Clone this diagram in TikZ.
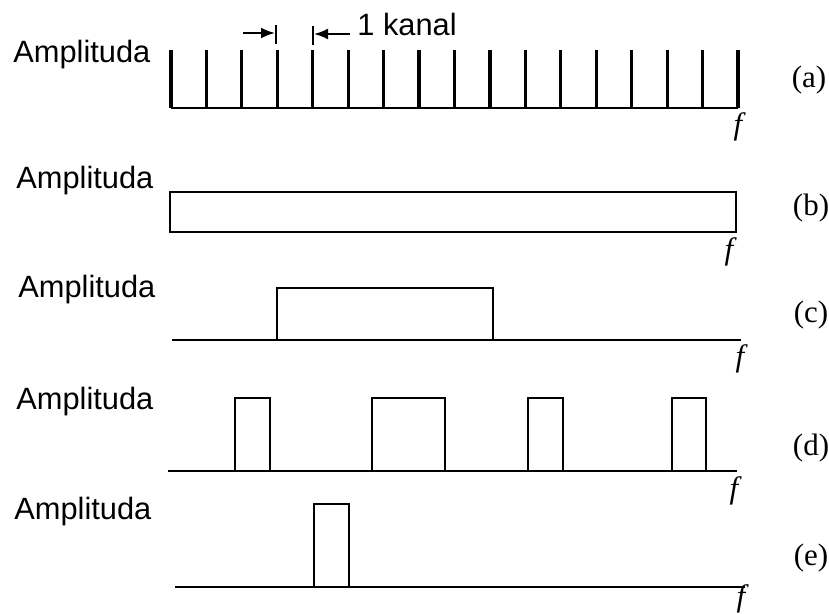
\documentclass[tikz,border=0pt]{standalone}
\usepackage{fontspec}
\setmainfont{Liberation Serif}
\newfontfamily\arialfont{Liberation Sans}
\usetikzlibrary{arrows.meta}
\tikzset{
  amplabel/.style={anchor=west, inner sep=0pt, font=\arialfont\fontsize{15.4}{18}\selectfont},
  partlabel/.style={inner sep=0pt, font=\fontsize{15.5}{18}\selectfont},
  flabel/.style={anchor=north, inner sep=0pt, font=\itshape\fontsize{15.5}{18}\selectfont},
  axis/.style={line width=1.3pt},
  band/.style={line width=1.3pt},
}
\begin{document}
\begin{tikzpicture}[x=0.5pt,y=-0.5pt]
  \useasboundingbox (0,0) rectangle (829,614);
  % (a) channels
  \node[amplabel] (ampa) at (13,55) {Amplituda};
  \draw[axis] (171,108) -- (738,108);
  \foreach \i in {0,...,16}
    \draw[line width=1.6pt] (171+35.44*\i,108) -- (171+35.44*\i,50);
  \draw[line width=0.8pt] (276,25) -- (276,44);
  \draw[line width=0.8pt] (313,26) -- (313,45);
  \coordinate (la) at (243,33);
  \coordinate (lb) at (275,33);
  \coordinate (ra) at (350,34);
  \coordinate (rb) at (314,34);
  \draw[line width=1pt, -{Latex[length=7pt,width=5.5pt]}] (la) -- (lb);
  \draw[line width=1pt, -{Latex[length=7pt,width=5.5pt]}] (ra) -- (rb);
  \node[amplabel] (kanal) at (357,24) {1 kanal};
  \node[flabel] (fa) at (738,112) {f};
  \node[partlabel] (pa) at (809,80) {(a)};
  % (b) whole band
  \node[amplabel] (ampb) at (16,181) {Amplituda};
  \draw[band] (170,192) rectangle (736,232);
  \node[flabel] (fb) at (729,237) {f};
  \node[partlabel] (pb) at (811,208) {(b)};
  % (c)
  \node[amplabel] (ampc) at (18,290) {Amplituda};
  \draw[axis] (172,340) -- (741,340);
  \draw[band] (277,340) -- (277,288) -- (493,288) -- (493,340);
  \node[flabel] (fc) at (740,344) {f};
  \node[partlabel] (pc) at (811,315) {(c)};
  % (d)
  \node[amplabel] (ampd) at (16,402) {Amplituda};
  \draw[axis] (168,471) -- (737,471);
  \draw[band] (235,471) -- (235,398) -- (270,398) -- (270,471);
  \draw[band] (372,471) -- (372,398) -- (445,398) -- (445,471);
  \draw[band] (528,471) -- (528,398) -- (563,398) -- (563,471);
  \draw[band] (672,471) -- (672,398) -- (706,398) -- (706,471);
  \node[flabel] (fd) at (734,476) {f};
  \node[partlabel] (pd) at (811,448) {(d)};
  % (e)
  \node[amplabel] (ampe) at (14,512) {Amplituda};
  \draw[axis] (175,587) -- (745,587);
  \draw[band] (314,587) -- (314,504) -- (349,504) -- (349,587);
  \node[flabel] (fe) at (741,584) {f};
  \node[partlabel] (pe) at (811,558) {(e)};
\end{tikzpicture}
\end{document}
